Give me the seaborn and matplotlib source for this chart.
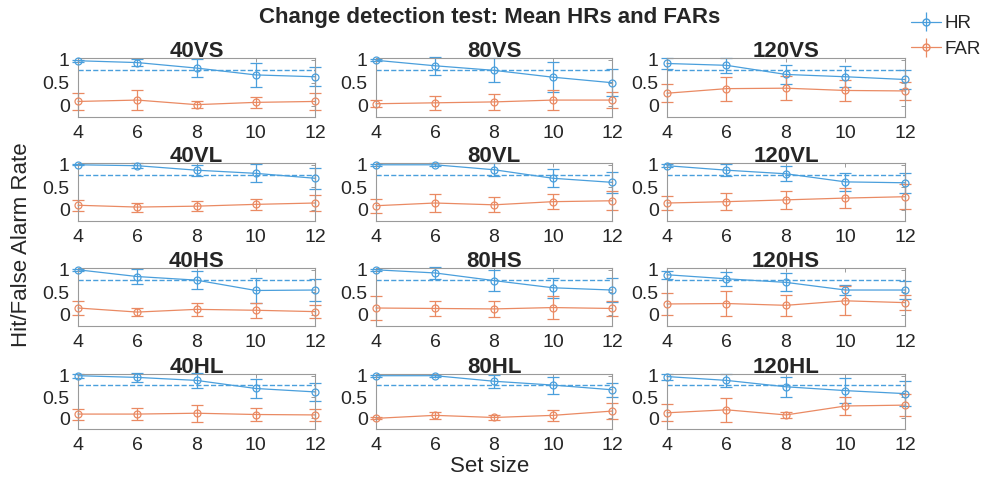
import numpy as np
import pandas as pd
import matplotlib
matplotlib.use("Agg")
import matplotlib.pyplot as plt
import seaborn as sns

# set sizes on the x axis
set_sizes = [4, 6, 8, 10, 12]

panel_titles = ["40VS", "80VS", "120VS",
                "40VL", "80VL", "120VL",
                "40HS", "80HS", "120HS",
                "40HL", "80HL", "120HL"]

# mean hit rates per panel
hr_mean = [
    [0.98, 0.94, 0.82, 0.67, 0.63],
    [0.99, 0.87, 0.77, 0.62, 0.50],
    [0.92, 0.88, 0.68, 0.63, 0.57],
    [1.00, 0.98, 0.88, 0.81, 0.70],
    [1.00, 1.00, 0.89, 0.70, 0.61],
    [0.98, 0.88, 0.80, 0.62, 0.60],
    [1.00, 0.85, 0.77, 0.54, 0.55],
    [1.00, 0.93, 0.76, 0.60, 0.55],
    [0.89, 0.80, 0.72, 0.55, 0.55],
    [1.00, 0.96, 0.89, 0.70, 0.62],
    [1.00, 1.00, 0.87, 0.78, 0.67],
    [0.98, 0.89, 0.74, 0.65, 0.58],
]
hr_err = [
    [0.02, 0.07, 0.19, 0.26, 0.21],
    [0.02, 0.20, 0.26, 0.33, 0.30],
    [0.12, 0.16, 0.21, 0.23, 0.20],
    [0.01, 0.06, 0.12, 0.20, 0.23],
    [0.02, 0.03, 0.15, 0.20, 0.23],
    [0.03, 0.14, 0.17, 0.20, 0.22],
    [0.02, 0.17, 0.20, 0.27, 0.25],
    [0.02, 0.13, 0.23, 0.22, 0.26],
    [0.09, 0.15, 0.20, 0.12, 0.20],
    [0.05, 0.10, 0.17, 0.23, 0.22],
    [0.02, 0.02, 0.15, 0.20, 0.17],
    [0.07, 0.15, 0.23, 0.29, 0.29],
]

# mean false alarm rates per panel
far_mean = [
    [0.09, 0.12, 0.02, 0.07, 0.09],
    [0.04, 0.06, 0.08, 0.12, 0.12],
    [0.27, 0.37, 0.38, 0.33, 0.32],
    [0.10, 0.06, 0.08, 0.12, 0.15],
    [0.09, 0.15, 0.11, 0.18, 0.20],
    [0.15, 0.18, 0.22, 0.26, 0.29],
    [0.15, 0.06, 0.12, 0.10, 0.07],
    [0.15, 0.14, 0.13, 0.16, 0.14],
    [0.24, 0.25, 0.21, 0.31, 0.27],
    [0.10, 0.10, 0.12, 0.09, 0.08],
    [0.00, 0.07, 0.02, 0.07, 0.17],
    [0.13, 0.20, 0.08, 0.29, 0.31],
]
far_err = [
    [0.19, 0.21, 0.07, 0.12, 0.19],
    [0.08, 0.15, 0.18, 0.21, 0.18],
    [0.20, 0.26, 0.26, 0.22, 0.20],
    [0.12, 0.10, 0.11, 0.13, 0.17],
    [0.16, 0.19, 0.17, 0.16, 0.21],
    [0.15, 0.19, 0.20, 0.22, 0.28],
    [0.16, 0.08, 0.15, 0.17, 0.14],
    [0.26, 0.16, 0.18, 0.25, 0.16],
    [0.25, 0.27, 0.23, 0.32, 0.16],
    [0.13, 0.14, 0.20, 0.16, 0.15],
    [0.02, 0.08, 0.07, 0.13, 0.19],
    [0.20, 0.28, 0.08, 0.22, 0.26],
]

hr_criterion = 0.78

sns.set_style("white")
plt.rcParams["font.family"] = ["Liberation Sans", "DejaVu Sans"]

HR_COLOR = "#4a9fdc"
FAR_COLOR = "#ea8a63"

W, H = 983, 480
fig = plt.figure(figsize=(W / 100, H / 100), dpi=100)

col_left = [78, 376, 667]
col_right = [315, 612, 905]
row_top = [58, 163, 268, 374]
row_bottom = [117, 221, 326, 429]

for i, title in enumerate(panel_titles):
    r, c = divmod(i, 3)
    x0, x1 = col_left[c], col_right[c]
    y0, y1 = row_top[r], row_bottom[r]
    ax = fig.add_axes([x0 / W, 1 - y1 / H, (x1 - x0) / W, (y1 - y0) / H])

    df = pd.DataFrame({
        "set_size": set_sizes,
        "HR": hr_mean[i],
        "HR_err": hr_err[i],
        "FAR": far_mean[i],
        "FAR_err": far_err[i],
    })

    ax.axhline(hr_criterion, color=HR_COLOR, ls="--", lw=1.0)

    for col, color in [("HR", HR_COLOR), ("FAR", FAR_COLOR)]:
        ax.errorbar(df["set_size"], df[col], yerr=df[col + "_err"], fmt="none",
                    ecolor=color, elinewidth=0.9, capsize=4, capthick=0.9,
                    clip_on=False, zorder=2)
        sns.lineplot(data=df, x="set_size", y=col, ax=ax, color=color,
                     lw=0.9, marker="o", markersize=5, markerfacecolor="none",
                     markeredgecolor=color, markeredgewidth=0.9,
                     clip_on=False, zorder=3, legend=False)

    ax.set_xlim(4, 12)
    ax.set_ylim(-0.25, 1.04)
    ax.set_xticks(set_sizes)
    ax.set_yticks([0, 0.5, 1])
    ax.set_yticklabels(["0", "0.5", "1"])
    ax.set_xlabel("")
    ax.set_ylabel("")
    ax.tick_params(direction="in", length=3, width=0.6, top=True, right=True,
                   labelsize=14, colors="#8c8c8c", labelcolor="#262626", pad=6)
    for s in ax.spines.values():
        s.set_color("#9a9a9a")
        s.set_linewidth(0.8)
    ax.set_title(title, fontsize=16, fontweight="bold", pad=1)

    if i == 2:
        handles = []
        for col, color in [("HR", HR_COLOR), ("FAR", FAR_COLOR)]:
            h = ax.errorbar([], [], yerr=[], fmt="-o", color=color, lw=0.9,
                            markersize=5, markerfacecolor="none", capsize=4)
            handles.append(h)
        fig.legend(handles, ["HR", "FAR"], loc="upper left",
                   bbox_to_anchor=(900 / W, 1 - 4 / H), frameon=False,
                   fontsize=13.5, handlelength=1.6, handletextpad=0.2,
                   labelspacing=0.45, borderaxespad=0.2)

fig.text(490 / W, 1 - 18 / H, "Change detection test: Mean HRs and FARs",
         ha="center", va="center", fontsize=16, fontweight="bold")
fig.text(490 / W, 1 - 467 / H, "Set size", ha="center", va="center",
         fontsize=16, color="#262626")
fig.text(22 / W, 1 - 245 / H, "Hit/False Alarm Rate", ha="center",
         va="center", rotation=90, fontsize=16, color="#262626")

fig.savefig("out.png", dpi=100)
